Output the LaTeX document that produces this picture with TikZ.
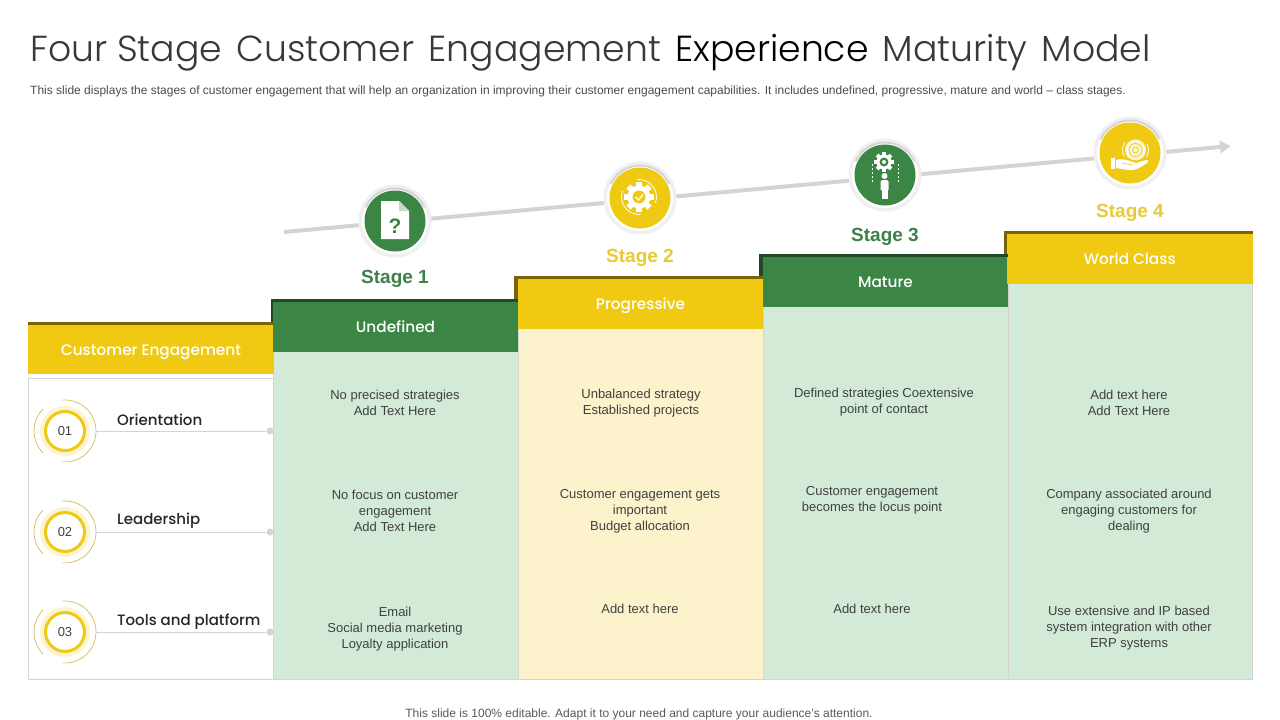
\documentclass[tikz,border=0pt]{standalone}
\usepackage{fontspec}
\setmainfont{Liberation Sans}
\newfontfamily\headfont{Poppins Medium}
\newfontfamily\titlefont{Poppins Light}
\usetikzlibrary{arrows.meta}
\definecolor{gr}{HTML}{3B8645}
\definecolor{grd}{HTML}{1F4A25}
\definecolor{yl}{HTML}{EFC912}
\definecolor{yld}{HTML}{7A6207}
\definecolor{grl}{HTML}{D3EAD7}
\definecolor{yll}{HTML}{FCF3CC}
\definecolor{ln}{HTML}{D4D4D4}
\definecolor{body}{HTML}{404040}
\definecolor{stg}{HTML}{3F8049}
\definecolor{sty}{HTML}{E6CB35}
\tikzset{
 headbox/.style={anchor=north west,inner sep=0pt,outer sep=0pt,minimum width=#1,font=\headfont\fontsize{15.3}{18}\selectfont,text=white,text height=11pt,text depth=0pt},
 colbox/.style={draw=ln,line width=.8pt,anchor=north west,inner sep=0pt,outer sep=0pt,minimum width=245pt},
 bodytxt/.style={font=\fontsize{13}{16}\selectfont,text=body,align=center,inner sep=0pt},
 stagetxt/.style={font=\fontsize{19}{22}\selectfont\bfseries,inner sep=0pt},
 rowtxt/.style={font=\headfont\fontsize{15}{18}\selectfont,text=black!85,anchor=west,inner sep=0pt},
 halo/.style={circle,fill=black!6,minimum size=73pt,inner sep=0pt},
 haloin/.style={circle,fill=white,minimum size=66pt,inner sep=0pt},
 disc/.style={circle,minimum size=61pt,inner sep=0pt},
 ring/.style={circle,draw=yl,fill=white,line width=3pt,minimum size=39pt,inner sep=0pt,font=\fontsize{13}{16}\selectfont,text=body},
 glow/.style={circle,fill=yl!20,minimum size=50pt,inner sep=0pt},
 thinarc/.style={draw=yl!80!black!70,line width=.7pt},
 rowline/.style={draw=ln,line width=1pt},
 rowdot/.style={circle,fill=ln,minimum size=7pt,inner sep=0pt}
}
\newcommand{\gearshape}[4]{% x y r colour
 \fill[#4] (#1,#2) circle[radius=#3 pt];
 \foreach \a in {0,45,...,315}{\fill[#4,rotate around={\a:(#1,#2)}] (#1-#3*.26,#2-#3*1.3) rectangle (#1+#3*.26,#2-#3*.8);}
}
\begin{document}
\begin{tikzpicture}[x=1pt,y=-1pt]
\useasboundingbox (0,0) rectangle (1280,720);
\fill[white] (0,0) rectangle (1280,720);
% title
\node[anchor=west,inner sep=0pt,text=black!78] (title) at (30,53) {\titlefont\fontsize{36.2}{40}\selectfont Four Stage\hspace{.12em} Customer\hspace{.12em} Engagement\hspace{.12em} \textcolor{black}{Experience}\hspace{.12em} Maturity\hspace{.12em} Model};
\node[anchor=west,inner sep=0pt,text=black!70,font=\fontsize{12}{14}\selectfont] (sub) at (30,91) {This slide displays the stages of customer engagement that will help an organization in improving their customer engagement capabilities. It includes undefined, progressive, mature and world -- class stages.};
\node[inner sep=0pt,text=black!65,font=\fontsize{12}{14}\selectfont] (foot) at (639,714) {This slide is 100\% editable. Adapt it to your need and capture your audience’s attention.};
% columns
\node[colbox,fill=white,minimum height=301.5pt] (c0) at (28.5,378) {};
\node[colbox,fill=grl,minimum height=329.5pt] (c1) at (273.5,350) {};
\node[colbox,fill=yll,minimum height=352.5pt] (c2) at (518.5,327) {};
\node[colbox,fill=grl,minimum height=374.5pt] (c3) at (763.5,305) {};
\node[colbox,fill=grl,minimum height=397.5pt,minimum width=244.5pt] (c4) at (1008,282) {};
% step strips
\fill[grd] (271,299) rectangle (275,323);
\fill[yld] (514,276) rectangle (518,300);
\fill[grd] (759,254) rectangle (763,277);
\fill[yld] (1004,231) rectangle (1008,255);
% headers
\node[headbox=246pt,minimum height=49pt,fill=yl] (h0) at (28,325) {Customer Engagement};
\node[headbox=245pt,minimum height=50pt,fill=gr] (h1) at (273,302) {Undefined};
\node[headbox=245pt,minimum height=50pt,fill=yl] (h2) at (518,279) {Progressive};
\node[headbox=245pt,minimum height=50pt,fill=gr] (h3) at (763,257) {Mature};
\node[headbox=245.5pt,minimum height=50pt,fill=yl] (h4) at (1007,234) {World Class};
\fill[yld] (28,322) rectangle (274,325);
\fill[grd] (271,299) rectangle (518,302);
\fill[yld] (514,276) rectangle (763,279);
\fill[grd] (759,254) rectangle (1008,257);
\fill[yld] (1004,231) rectangle (1252.5,234);
% arrow
\coordinate (as) at (284,232);
\coordinate (ae) at (1231,146);
\draw[draw=ln,line width=4pt,-{Triangle[length=11pt,width=12pt]}] (as) -- (ae);
% stage discs
\foreach \n/\x/\y/\c in {a/395/221/gr,b/640/198/yl,c/885/175/gr,d/1130/153/yl}{
 \node[halo] (halo\n) at (\x,\y) {};
 \node[haloin] (hin\n) at (\x,\y) {};
 \draw[ln,line width=2pt] (\x,\y) ++(25:32.5pt) arc[start angle=25,end angle=155,radius=32.5pt];
 \node[disc,fill=\c] (disc\n) at (\x,\y) {};
}
% icon 1: document
\fill[white] (381,201) -- (399,201) -- (409,211) -- (409,239) -- (381,239) -- cycle;
\fill[gr!30!white] (399,201) -- (409,211) -- (399,211) -- cycle;
\node[text=gr,font=\fontsize{21}{22}\selectfont\bfseries,inner sep=0pt] (qmark) at (395,226) {?};
% icon 2: gear and check
\gearshape{639}{197}{11.5}{white}
\fill[yl] (639,197) circle[radius=6.5pt];
\draw[white,line width=1.3pt,line cap=round] (635.5,197) -- (638.5,200) -- (643,194.5);
\draw[white,line width=.8pt] (639,197) ++(-20:17.5pt) arc[start angle=-20,end angle=95,radius=17.5pt];
\draw[white,line width=.8pt] (639,197) ++(160:17.5pt) arc[start angle=160,end angle=275,radius=17.5pt];
% icon 3: gear over person
\gearshape{884}{162}{7.5}{white}
\fill[gr] (884,162) circle[radius=4.5pt];
\fill[white] (884,162) circle[radius=2pt];
\fill[white] (884.5,176) circle[radius=3pt];
\fill[white,rounded corners=1.5pt] (880.5,180) rectangle (888.5,191);
\fill[white] (881.5,188) rectangle (887.5,199);
\draw[white,line width=1pt,dash pattern=on 2pt off 2pt] (872,164) -- (872,184);
\draw[white,line width=1pt,dash pattern=on 2pt off 2pt] (898,164) -- (898,184);
% icon 4: hand and globe
\fill[white!82!yl] (1135.5,150) circle[radius=10.5pt];
\draw[yl,line width=.7pt] (1135.5,150) circle[radius=6.5pt];
\draw[yl,line width=.7pt] (1135.5,150) circle[radius=3pt];
\draw[white,line width=.8pt] (1135.5,150) ++(-35:13pt) arc[start angle=-35,end angle=30,radius=13pt];
\draw[white,line width=.8pt] (1135.5,150) ++(145:13pt) arc[start angle=145,end angle=210,radius=13pt];
\fill[white] (1111,158) rectangle (1114.5,169);
\fill[white] (1116,160) .. controls (1124,158) and (1130,161) .. (1136,163) -- (1146,160) .. controls (1149,160) and (1149,162) .. (1147,163) .. controls (1140,168) and (1134,171) .. (1128,170) -- (1116,168) -- cycle;
\draw[yl,line width=.6pt] (1122,163) -- (1133,165);
% stage labels
\node[stagetxt,text=stg] (s1) at (395,278.5) {Stage 1};
\node[stagetxt,text=sty] (s2) at (640,257.5) {Stage 2};
\node[stagetxt,text=stg] (s3) at (885,236.5) {Stage 3};
\node[stagetxt,text=sty] (s4) at (1130,212.5) {Stage 4};
% rows
\foreach \n/\y/\t/\ty in {1/431/Orientation/420,2/532/Leadership/521,3/632/Tools and platform/622}{
 \node[glow] (g\n) at (65,\y) {};
 \draw[thinarc] (65,\y) ++(95:31pt) arc[start angle=95,end angle=-95,radius=31pt];
 \draw[thinarc] (65,\y) ++(135:31pt) arc[start angle=135,end angle=225,radius=31pt];
 \node[ring] (r\n) at (65,\y) {0\n};
 \coordinate (ls\n) at (96,\y);
 \node[rowdot] (d\n) at (270,\y) {};
 \draw[rowline] (ls\n) -- (d\n);
 \node[rowtxt] (t\n) at (117,\ty) {\t};
}
% body text
\node[bodytxt] (b11) at (395,403) {No precised strategies\\Add Text Here};
\node[bodytxt] (b12) at (395,511) {No focus on customer\\engagement\\Add Text Here};
\node[bodytxt] (b13) at (395,629) {Email\\Social media marketing\\Loyalty application};
\node[bodytxt] (b21) at (641,403) {Unbalanced strategy\\ Established projects};
\node[bodytxt] (b22) at (640,511) {Customer engagement gets\\important\\Budget allocation};
\node[bodytxt] (b23) at (640,609) {Add text here};
\node[bodytxt] (b31) at (884,402) {Defined strategies Coextensive\\point of contact};
\node[bodytxt] (b32) at (872,500) {Customer engagement\\becomes the locus point};
\node[bodytxt] (b33) at (872,609) {Add text here};
\node[bodytxt] (b41) at (1129,403) {Add text here\\Add Text Here};
\node[bodytxt] (b42) at (1129,511) {Company associated around\\engaging customers for\\dealing};
\node[bodytxt] (b43) at (1129,628) {Use extensive and IP based\\system integration with other\\ERP systems};
\end{tikzpicture}
\end{document}
